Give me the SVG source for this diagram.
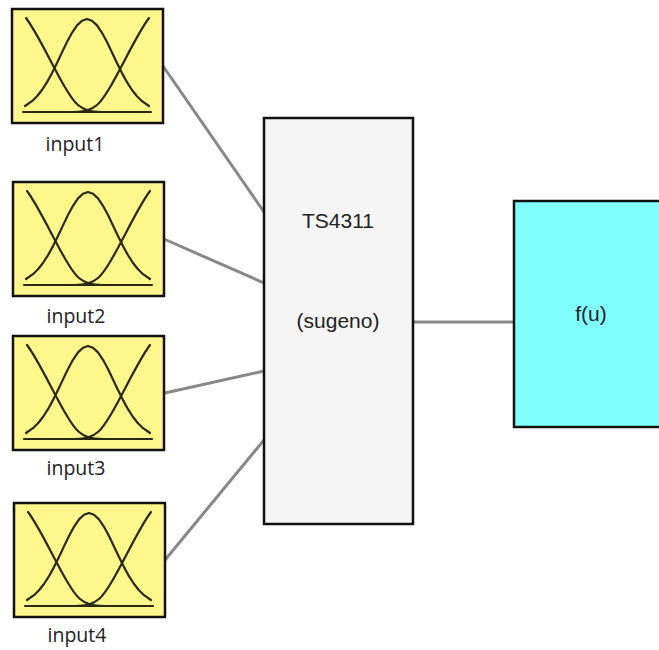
<svg xmlns="http://www.w3.org/2000/svg" width="659" height="650" viewBox="0 0 659 650">
<defs>
<style>
.inbox{fill:#fff68c;stroke:#111;stroke-width:2.5}
.mf{fill:none;stroke:#2a2a14;stroke-width:2.2;stroke-linejoin:round;stroke-linecap:round}
.lbl{font-family:"Open Sans","Liberation Sans",sans-serif;font-size:19.5px;fill:#222;text-anchor:middle}
.ttl{font-family:"Liberation Sans",Arial,sans-serif;font-size:21px;fill:#222;text-anchor:middle}
.conn{stroke:#888;stroke-width:3;fill:none}
</style>
<g id="mficon">
<rect class="inbox" x="0" y="0" width="151" height="114"/>
<line class="mf" x1="11" y1="103" x2="139" y2="103"/>
<path class="mf" d="M14,9 C30,30 52,84 66,96 C72,101 78,103 90,103"/>
<path class="mf" d="M137,9 C121,30 99,84 85,96 C79,101 73,103 61,103"/>
<polyline class="mf" points="13,97 20,92.2 25,87.3 30,81 35,73.2 40,64.1 45,54 50,43.4 55,33.1 60,23.8 65,16.4 70,11.7 75,10 80,11.7 85,16.4 90,23.8 95,33.1 100,43.4 105,54 110,64.1 115,73.2 120,81 125,87.3 130,92.2 137,97"/>
</g>
</defs>
<rect x="0" y="0" width="659" height="650" fill="#ffffff"/>
<g id="connectors">
<line class="conn" x1="163" y1="66" x2="264" y2="212"/>
<line class="conn" x1="164" y1="239" x2="264" y2="283"/>
<line class="conn" x1="165" y1="393" x2="264" y2="371"/>
<line class="conn" x1="165" y1="560" x2="264" y2="440"/>
<line class="conn" x1="413" y1="322" x2="514" y2="322"/>
</g>
<g id="input1">
<use href="#mficon" transform="translate(12,9)"/>
<text class="lbl" x="75" y="151">input1</text>
</g>
<g id="input2">
<use href="#mficon" transform="translate(13,182)"/>
<text class="lbl" x="76" y="323">input2</text>
</g>
<g id="input3">
<use href="#mficon" transform="translate(13,336)"/>
<text class="lbl" x="76" y="475">input3</text>
</g>
<g id="input4">
<use href="#mficon" transform="translate(14,503)"/>
<text class="lbl" x="77" y="642">input4</text>
</g>
<g id="fis">
<rect x="264" y="118" width="149" height="406" fill="#f5f5f5" stroke="#111" stroke-width="2.5"/>
<text class="ttl" x="338" y="228">TS4311</text>
<text class="ttl" x="338" y="328">(sugeno)</text>
</g>
<g id="fcn">
<rect x="514" y="201" width="170" height="226" fill="#80ffff" stroke="#111" stroke-width="2.5"/>
<text class="ttl" x="591" y="321">f(u)</text>
</g>
</svg>
